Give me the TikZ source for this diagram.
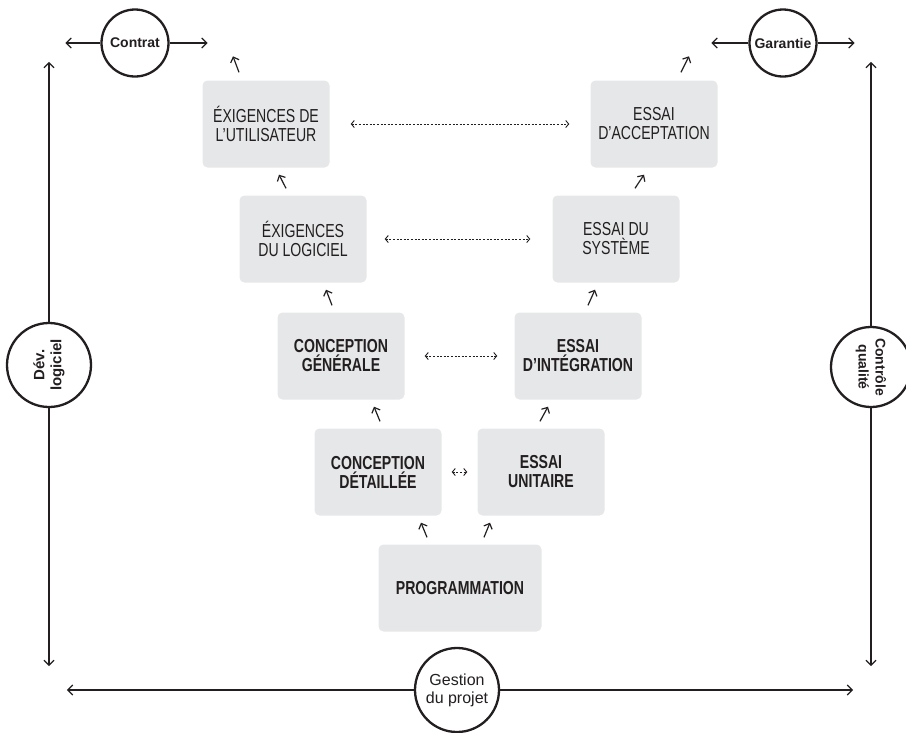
\documentclass[tikz,border=0pt]{standalone}
\usepackage{fontspec}
\setmainfont{Liberation Sans}[FakeStretch=0.75]
\newfontfamily\ringfont{Liberation Sans}
\usetikzlibrary{positioning,calc,shapes,arrows.meta}
\definecolor{ink}{HTML}{231F20}
\definecolor{boxgray}{HTML}{E6E7E8}

\tikzset{
  phase/.style={fill=boxgray, rounded corners=5pt, minimum width=127pt, minimum height=87pt,
    align=center, inner sep=0pt, text=ink, font=\fontsize{18.8}{19}\selectfont},
  strong/.style={font=\fontsize{18.8}{19}\selectfont\bfseries},
  ring/.style={circle, draw=ink, line width=2.3pt, fill=white, inner sep=0pt, align=center, text=ink},
  climb/.style={-{Straight Barb[length=4.5pt, width=9pt]}, draw=ink, line width=1.2pt},
  link/.style={{Straight Barb[length=3pt, width=7pt]}-{Straight Barb[length=3pt, width=7pt]},
    draw=ink, line width=0.9pt, dash pattern=on 2pt off 1.6pt},
  axis/.style={-{Straight Barb[length=5pt, width=10pt]}, draw=ink, line width=1.3pt},
}

\begin{document}
\begin{tikzpicture}[x=1pt, y=-1pt]
    \useasboundingbox (0,0) rectangle (906,732);
    \clip (0,0) rectangle (906,732);

    % the V
    \node[phase] (util) at (266,124) {ÉXIGENCES DE\\L’UTILISATEUR};
    \node[phase] (logi) at (303,239) {ÉXIGENCES\\DU LOGICIEL};
    \node[phase, strong] (gen) at (341,356) {CONCEPTION\\GÉNÉRALE};
    \node[phase, strong] (det) at (378,472) {CONCEPTION\\DÉTAILLÉE};
    \node[phase, strong, minimum width=163pt] (prog) at (460,588) {PROGRAMMATION};
    \node[phase, strong] (unit) at (541,472) {ESSAI\\UNITAIRE};
    \node[phase, strong] (integ) at (578,356) {ESSAI\\D’INTÉGRATION};
    \node[phase] (sys) at (616,239) {ESSAI DU\\SYSTÈME};
    \node[phase] (acc) at (654,124) {ESSAI\\D’ACCEPTATION};

    % rings
    \node[ring, minimum size=67pt, font=\ringfont\bfseries\fontsize{14}{16}\selectfont] (contrat) at (135,43) {Contrat};
    \node[ring, minimum size=67pt, font=\ringfont\bfseries\fontsize{14}{16}\selectfont] (garantie) at (783,43) {Garantie};
    \node[ring, minimum size=84pt, rotate=90, font=\ringfont\bfseries\fontsize{15}{17}\selectfont] (dev) at (49,365) {Dév.\\logiciel};
    \node[ring, minimum size=80pt, rotate=-90, font=\ringfont\bfseries\fontsize{14}{17}\selectfont] (ctrl) at (871,367) {Contrôle\\qualité};
    \node[ring, minimum size=84pt, font=\ringfont\fontsize{16}{18}\selectfont] (gestion) at (457,690) {Gestion\\du projet};

    % dotted links
    \draw[link, shorten <=21pt, shorten >=21pt] (util) -- (acc);
    \draw[link, shorten <=18pt, shorten >=22pt] (logi) -- (sys);
    \draw[link, shorten <=20pt, shorten >=17pt] (gen) -- (integ);
    \draw[link, shorten <=10pt, shorten >=10pt] (det) -- (unit);

    % small arrows up the V
    \foreach \a/\da/\b/\db in {prog/-33/det/43, det/2/gen/33, gen/-9/logi/23, logi/-17/util/13,
                               prog/24/unit/-51, unit/-1/integ/-30, integ/10/sys/-21, sys/19/acc/-10}
      \draw[climb] ($(\a.north)+(\da,-7)$) -- ($(\b.south)+(\db,7)$);
    \draw[climb] ($(util.north)+(-27,-8)$) -- ($(util.north)+(-33,-24)$);
    \draw[climb] ($(acc.north)+(27,-8)$) -- ($(acc.north)+(35,-24)$);

    % axes
    \draw[axis] (contrat.west) -- ++(-35,0);
    \draw[axis] (contrat.east) -- ++(38,0);
    \draw[axis] (garantie.west) -- ++(-37,0);
    \draw[axis] (garantie.east) -- ++(37,0);
    \draw[axis] (dev.east) -- ++(0,-260); % rotated: east is up
    \draw[axis] (dev.west) -- ++(0,258);
    \draw[axis] (ctrl.west) -- ++(0,-264); % rotated: west is up
    \draw[axis] (ctrl.east) -- ++(0,258);
    \draw[axis] (gestion.west) -- ++(-347,0);
    \draw[axis] (gestion.east) -- ++(353,0);
\end{tikzpicture}
\end{document}
